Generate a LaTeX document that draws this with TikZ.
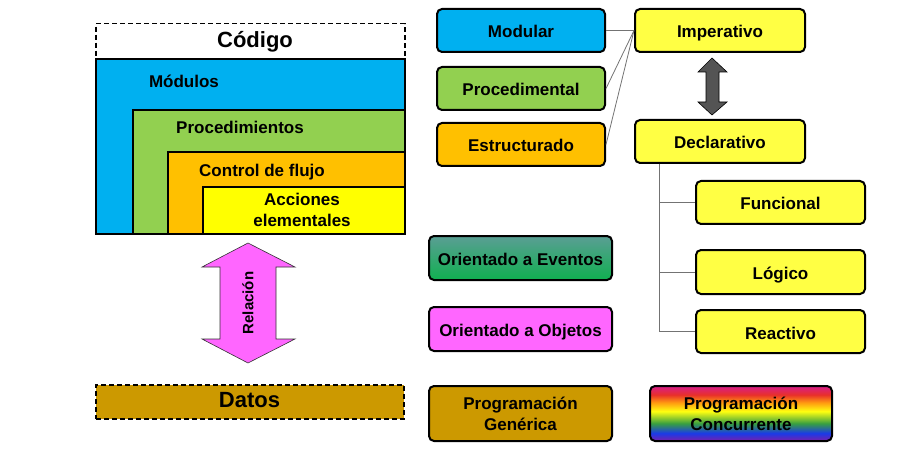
\documentclass[tikz,border=0pt]{standalone}
\usepackage{fontspec}
\setmainfont{Liberation Sans}
\definecolor{cblue}{HTML}{00B0F0}
\definecolor{cgreen}{HTML}{92D050}
\definecolor{corange}{HTML}{FFC000}
\definecolor{cyellow}{HTML}{FFFF00}
\definecolor{lyellow}{HTML}{FFFF44}
\definecolor{cpink}{HTML}{FF66FF}
\definecolor{cgold}{HTML}{CC9900}
\definecolor{cteal}{HTML}{5A9E94}
\definecolor{cevgreen}{HTML}{10B050}
\definecolor{rbpurple}{HTML}{7A1FA8}
\definecolor{rbblue}{HTML}{1A3AE8}
\definecolor{rbgreen}{HTML}{38A040}
\definecolor{rbyellow}{HTML}{FFFF10}
\definecolor{rborange}{HTML}{FF9A10}
\definecolor{rbred}{HTML}{E8302A}
\definecolor{rbmagenta}{HTML}{D81E8C}
\pgfdeclareverticalshading{rainbow}{100bp}{color(0bp)=(rbpurple); color(25bp)=(rbpurple); color(32bp)=(rbblue); color(41bp)=(rbgreen); color(52bp)=(rbyellow); color(60bp)=(rborange); color(67bp)=(rbred); color(75bp)=(rbmagenta); color(100bp)=(rbmagenta)}
\tikzset{
  txt/.style={font=\bfseries\fontsize{17}{21}\selectfont},
  title/.style={font=\bfseries\fontsize{22}{24}\selectfont},
  layer/.style={draw=black, line width=2pt, anchor=north west, inner sep=0pt},
  dashbox/.style={draw=black, line width=1.5pt, dash pattern=on 5pt off 3pt, anchor=north west, inner sep=0pt},
  rbox/.style={draw=black, line width=2pt, rounded corners=5pt, txt, align=center, inner sep=0pt, minimum height=43pt},
  oneline/.style={text height=15pt, text depth=0pt},
  conn/.style={draw=black!55, line width=0.8pt},
}
\begin{document}
\begin{tikzpicture}[x=1pt,y=-1pt]
\useasboundingbox (0,0) rectangle (902,449);
% left stack
\node[dashbox, minimum width=309pt, minimum height=35pt] (codigo) at (95,23) {};
\node[title, anchor=base] (codigotxt) at (255,47.3) {Código};
\node[layer, fill=cblue, minimum width=309pt, minimum height=175pt] (modulos) at (95,58) {};
\node[layer, fill=cgreen, minimum width=272pt, minimum height=124pt] (procs) at (132,109) {};
\node[layer, fill=corange, minimum width=237pt, minimum height=82pt] (control) at (167,151) {};
\node[layer, fill=cyellow, minimum width=202pt, minimum height=47pt] (acciones) at (202,186) {};
\node[txt, anchor=base] (modtxt) at (184,87.7) {Módulos};
\node[txt, anchor=base] (proctxt) at (240,134) {Procedimientos};
\node[txt, anchor=base] (ctrltxt) at (262,176.7) {Control de flujo};
\node[txt, anchor=base] (acctxt1) at (302,206) {Acciones};
\node[txt, anchor=base] (acctxt2) at (302,226.7) {elementales};
% relation arrow
\draw[fill=cpink, draw=black!80, line width=0.6pt] (248,243) -- (295,267) -- (276,267) -- (276,339) -- (295,339) -- (248,363) -- (202,339) -- (220,339) -- (220,267) -- (202,267) -- cycle;
\node[rotate=90, font=\bfseries\fontsize{15}{17}\selectfont] (rel) at (248,303) {Relación};
\node[dashbox, fill=cgold, minimum width=308pt, minimum height=34pt] (datos) at (95,384) {};
\node[title, anchor=base] (datostxt) at (249.5,407.7) {Datos};
% right boxes
\node[rbox, oneline, fill=cblue, minimum width=168pt] (modular) at (521,30.5) {Modular};
\node[rbox, oneline, fill=cgreen, minimum width=168pt] (procedimental) at (521,88.5) {Procedimental};
\node[rbox, oneline, fill=corange, minimum width=168pt] (estructurado) at (521,144.5) {Estructurado};
\node[rbox, oneline, fill=lyellow, minimum width=170pt] (imperativo) at (720,30.5) {Imperativo};
\node[rbox, oneline, fill=lyellow, minimum width=170pt] (declarativo) at (720,141.5) {Declarativo};
\node[rbox, oneline, fill=lyellow, minimum width=169pt] (funcional) at (780.5,202.5) {Funcional};
\node[rbox, oneline, fill=lyellow, minimum width=169pt, minimum height=44pt] (logico) at (780.5,272) {Lógico};
\node[rbox, oneline, fill=lyellow, minimum width=169pt] (reactivo) at (780.5,331.5) {Reactivo};
\node[rbox, oneline, top color=cteal, bottom color=cevgreen, minimum width=183pt, minimum height=44pt] (eventos) at (520.5,258) {Orientado a Eventos};
\node[rbox, oneline, fill=cpink, minimum width=183pt, minimum height=44pt] (objetos) at (520.5,329) {Orientado a Objetos};
\node[rbox, fill=cgold, minimum width=183pt, minimum height=55pt] (generica) at (520.5,413.5) {Programación\\Genérica};
\node[rbox, shading=rainbow, minimum width=182pt, minimum height=55pt] (concurrente) at (741,413.5) {Programación\\Concurrente};
% connectors
\draw[conn] (modular.east) -- (imperativo.west);
\draw[conn] (procedimental.east) -- (imperativo.west);
\draw[conn] (estructurado.east) -- (imperativo.west);
\coordinate (trunk) at ([xshift=25pt]declarativo.south west);
\draw[conn] (trunk) |- (funcional.west);
\draw[conn] (trunk) |- (logico.west);
\draw[conn] (trunk) |- (reactivo.west);
% imperative/declarative arrow
\draw[fill=black!67, draw=black, line width=0.6pt] (712,58) -- (727,72) -- (719,72) -- (719,102) -- (727,102) -- (712,115) -- (698,102) -- (706,102) -- (706,72) -- (698,72) -- cycle;
\end{tikzpicture}
\end{document}
